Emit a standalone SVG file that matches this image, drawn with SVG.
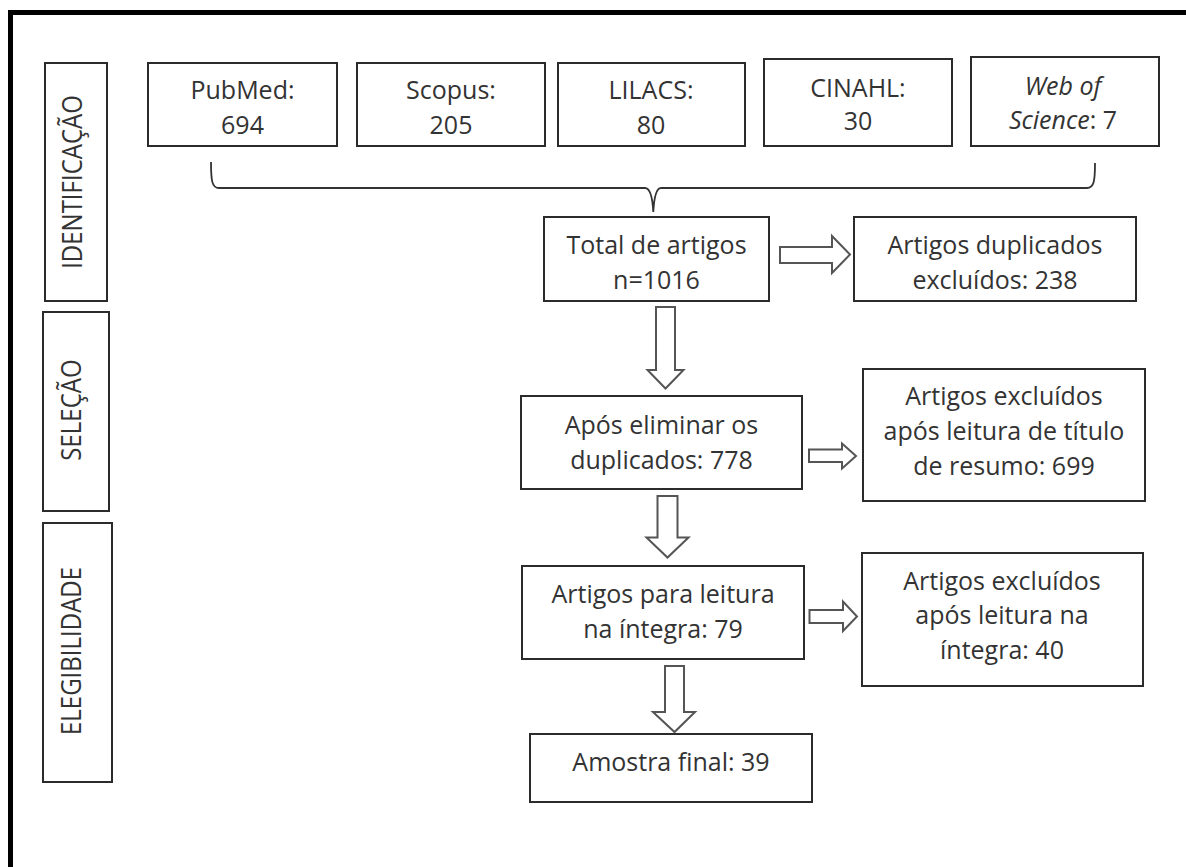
<svg xmlns="http://www.w3.org/2000/svg" width="1186" height="867" viewBox="0 0 1186 867">
<style>
.box{fill:#fff;stroke:#2b2b2b;stroke-width:2}
.t{font-family:"Open Sans","Noto Sans","Liberation Sans",sans-serif;font-size:25px;fill:#333;text-anchor:middle}
.side{font-family:"Open Sans","Noto Sans","Liberation Sans",sans-serif;font-size:24px;fill:#333;text-anchor:middle}
.arr{fill:#fff;stroke:#555;stroke-width:2;stroke-linejoin:miter}
.brace{fill:none;stroke:#333;stroke-width:1.8}
</style>
<rect width="1186" height="867" fill="#fff"/>
<path d="M10.5,867 L10.5,12.5 L1186,12.5" fill="none" stroke="#000" stroke-width="5"/>

<g id="side-identificacao">
<rect class="box" x="45" y="63" width="62" height="238"/>
<text class="side" transform="translate(82,182) rotate(-90) scale(1,1.12)">IDENTIFICAÇÃO</text>
</g>
<g id="side-selecao">
<rect class="box" x="43" y="312" width="66" height="199"/>
<text class="side" transform="translate(81,410) rotate(-90) scale(1,1.12)">SELEÇÃO</text>
</g>
<g id="side-elegibilidade">
<rect class="box" x="43" y="523" width="69" height="259"/>
<text class="side" transform="translate(81,651) rotate(-90) scale(1,1.12)">ELEGIBILIDADE</text>
</g>

<g id="pubmed">
<rect class="box" x="148" y="63" width="189" height="83"/>
<text class="t" x="242.5" y="99">PubMed:</text>
<text class="t" x="242.5" y="134">694</text>
</g>
<g id="scopus">
<rect class="box" x="357" y="63" width="188" height="83"/>
<text class="t" x="451" y="99">Scopus:</text>
<text class="t" x="451" y="134">205</text>
</g>
<g id="lilacs">
<rect class="box" x="558" y="63" width="187" height="83"/>
<text class="t" x="651" y="99">LILACS:</text>
<text class="t" x="651" y="134">80</text>
</g>
<g id="cinahl">
<rect class="box" x="764" y="59" width="188" height="87"/>
<text class="t" x="858" y="96.5">CINAHL:</text>
<text class="t" x="858" y="130">30</text>
</g>
<g id="wos">
<rect class="box" x="971" y="57" width="188" height="89"/>
<text class="t" x="1063" y="94.5" font-style="italic">Web of</text>
<text class="t" x="1063" y="128.5"><tspan font-style="italic">Science</tspan>: 7</text>
</g>

<g id="total">
<rect class="box" x="544" y="217" width="225" height="84"/>
<text class="t" x="656.5" y="253.5">Total de artigos</text>
<text class="t" x="656.5" y="288.5">n=1016</text>
</g>
<g id="duplicados">
<rect class="box" x="854" y="217" width="282" height="84"/>
<text class="t" x="995" y="253.5">Artigos duplicados</text>
<text class="t" x="995" y="288.5">excluídos: 238</text>
</g>
<g id="apos-eliminar">
<rect class="box" x="521" y="396" width="281" height="93"/>
<text class="t" x="661.5" y="433.5">Após eliminar os</text>
<text class="t" x="661.5" y="468.5">duplicados: 778</text>
</g>
<g id="excl-titulo">
<rect class="box" x="863" y="369" width="282" height="132"/>
<text class="t" x="1004" y="405">Artigos excluídos</text>
<text class="t" x="1004" y="440">após leitura de título</text>
<text class="t" x="1004" y="475">de resumo: 699</text>
</g>
<g id="leitura-integra">
<rect class="box" x="522" y="566" width="282" height="93"/>
<text class="t" x="663" y="603">Artigos para leitura</text>
<text class="t" x="663" y="638">na íntegra: 79</text>
</g>
<g id="excl-integra">
<rect class="box" x="862" y="553" width="281" height="133"/>
<text class="t" x="1002" y="589.5">Artigos excluídos</text>
<text class="t" x="1002" y="624">após leitura na</text>
<text class="t" x="1002" y="658.5">íntegra: 40</text>
</g>
<g id="amostra">
<rect class="box" x="530" y="734" width="282" height="68"/>
<text class="t" x="671" y="771">Amostra final: 39</text>
</g>

<g id="connectors">
<path class="brace" d="M211,162 C211,181 212,188 219,188 L645,188 Q652,188 653.3,212 Q654.6,188 661,188 L1087,188 C1094,188 1095,181 1095,163"/>
<path class="arr" d="M780,247 L832,247 L832,236 L850,254.5 L832,273 L832,263 L780,263 Z"/>
<path class="arr" d="M656,307 L675,307 L675,370 L683.5,370 L665.5,388.5 L647.5,370 L656,370 Z"/>
<path class="arr" d="M809,449.5 L842,449.5 L842,443.5 L856,456 L842,468.5 L842,462 L809,462 Z"/>
<path class="arr" d="M657.5,496 L677.5,496 L677.5,537.5 L688.5,537.5 L667.5,557.5 L646.5,537.5 L657.5,537.5 Z"/>
<path class="arr" d="M809.5,610 L843,610 L843,601.5 L857,616.5 L843,631 L843,623 L809.5,623 Z"/>
<path class="arr" d="M665,666 L684,666 L684,712 L695,712 L674.5,732 L653,712 L665,712 Z"/>
</g>
</svg>
